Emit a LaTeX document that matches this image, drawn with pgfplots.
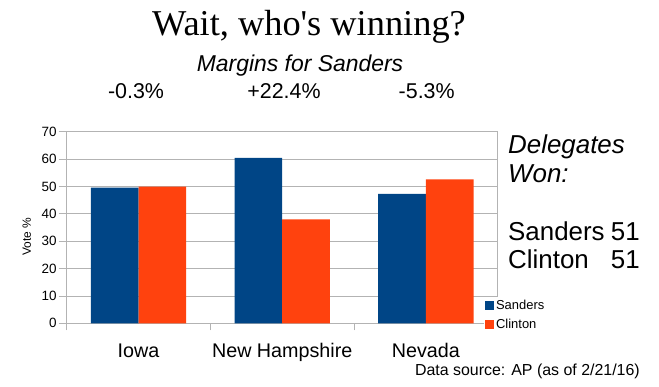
\documentclass[border=0pt]{standalone}
\usepackage{pgfplots}
\pgfplotsset{compat=1.18}
\usepackage{fontspec}
\setmainfont{Liberation Sans}
\newfontfamily\seriffont{Liberation Serif}
\definecolor{sanders}{HTML}{004586}
\definecolor{clinton}{HTML}{FF420E}
\definecolor{gridgray}{HTML}{B3B3B3}
\newcommand{\fs}[1]{\fontsize{#1}{#1}\selectfont}
\begin{document}
\begin{tikzpicture}
\path[use as bounding box] (0,0) rectangle (659bp,-387bp);
\begin{axis}[
  at={(66.7bp,-323.3bp)}, anchor=south west,
  scale only axis, width=431bp, height=191.6bp,
  ybar=0pt, bar width=47.7bp,
  xmin=-0.5, xmax=2.5, ymin=0, ymax=70,
  xtick={0,1,2}, xticklabels={Iowa,New Hampshire,Nevada},
  minor xtick={-0.5,0.5,1.5,2.5},
  ytick={0,10,...,70},
  major x tick style={draw=none},
  xtick align=outside, ytick align=outside,
  xtick pos=bottom, ytick pos=left,
  major tick length=8bp, minor tick length=7bp,
  tick style={gridgray, line width=0.8pt},
  ymajorgrids, grid style={gridgray, line width=0.8pt},
  axis line style={gridgray, line width=0.8pt},
  /pgf/number format/assume math mode=true,
  yticklabel style={font=\fs{13.5}, anchor=east, inner sep=0pt, xshift=-2bp},
  xticklabel style={font=\fs{19.8}, anchor=base, inner sep=0pt, yshift=-26bp},
  legend style={at={(axis description cs:0.968,0.137)}, anchor=north west,
    draw=none, fill=white, font=\fs{13}, inner sep=1bp,
    row sep=4bp, cells={anchor=west}},
  legend image code/.code={\fill[#1] (0bp,-4.5bp) rectangle (9bp,4.5bp);},
]
\addplot[fill=sanders, draw=none] coordinates {(0,49.6) (1,60.4) (2,47.3)};
\addplot[fill=clinton, draw=none] coordinates {(0,49.9) (1,38.0) (2,52.6)};
\legend{Sanders,Clinton}
\end{axis}
\node[anchor=base, font=\seriffont\fs{36.5}] at (309bp,-35bp) {Wait, who's winning?};
\node[anchor=base, font=\itshape\fs{23}] at (300bp,-71.7bp) {Margins for Sanders};
\node[anchor=base, font=\fs{21.5}] at (136bp,-98.3bp) {-0.3\%};
\node[anchor=base, font=\fs{21.5}] at (284bp,-98.3bp) {+22.4\%};
\node[anchor=base, font=\fs{21.5}] at (426.7bp,-98.3bp) {-5.3\%};
\node[anchor=base west, font=\itshape\fs{26}, inner sep=0pt] at (508bp,-153.3bp) {Delegates};
\node[anchor=base west, font=\itshape\fs{26}, inner sep=0pt] at (508bp,-182.7bp) {Won:};
\node[anchor=base west, font=\fs{26}, inner sep=0pt] at (508bp,-240bp) {Sanders};
\node[anchor=base west, font=\fs{26}, inner sep=0pt] at (508bp,-268.3bp) {Clinton};
\node[anchor=base east, font=\fs{26}, inner sep=0pt] at (640bp,-240bp) {51};
\node[anchor=base east, font=\fs{26}, inner sep=0pt] at (640bp,-268.3bp) {51};
\node[rotate=90, font=\fs{12}] at (26.7bp,-237bp) {Vote \%};
\node[anchor=base east, font=\fs{16}, inner sep=0pt] at (640bp,-375bp) {Data source: AP (as of 2/21/16)};
\end{tikzpicture}
\end{document}
